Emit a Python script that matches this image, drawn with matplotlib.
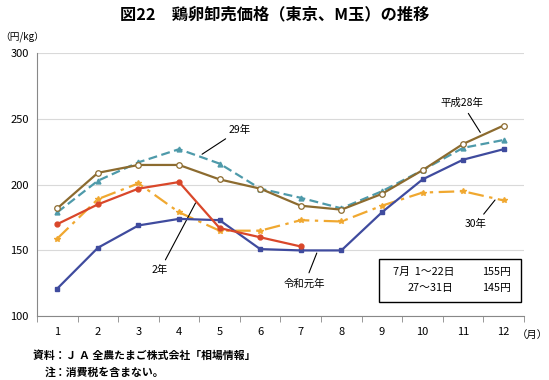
import numpy as np
import matplotlib.pyplot as plt
from matplotlib.patches import Rectangle

plt.rcParams['font.family'] = ['Noto Sans CJK JP', 'DejaVu Sans']

# データ
months = list(range(1, 13))
month_labels = [str(m) for m in months]
h28 = [182, 209, 215, 215, 204, 197, 184, 181, 193, 211, 231, 245]
h29 = [179, 203, 217, 227, 216, 197, 190, 182, 195, 211, 228, 234]
h30 = [159, 189, 201, 179, 165, 165, 173, 172, 184, 194, 195, 188]
r1 = [121, 152, 169, 174, 173, 151, 150, 150, 179, 204, 219, 227]
r2 = [170, 185, 197, 202, 167, 160, 153]
yticks = [100, 150, 200, 250, 300]

fig = plt.figure(figsize=(5.49, 3.80), dpi=100)
ax = fig.add_axes([0.0674, 0.168, 0.887, 0.692])

ax.plot(months, h28, color='#8C6B2F', lw=1.6, marker='o', ms=4,
        mfc='white', mec='#8C6B2F', mew=0.9, zorder=5)
ax.plot(months, h29, color='#4E9AAA', lw=1.6, ls=(0, (4, 2)), marker='^',
        ms=3.5, mfc='#4E9AAA', mec='#4E9AAA', zorder=4)
ax.plot(months, h30, color='#F0A830', lw=1.6, ls=(0, (7, 2.5, 1.5, 2.5)),
        marker='*', ms=4, mfc='#F0A830', mec='#F0A830', zorder=3)
ax.plot(months, r1, color='#3F4B9E', lw=1.6, marker='s', ms=3.2,
        mfc='#3F4B9E', mec='#3F4B9E', zorder=4)
ax.plot(months[:len(r2)], r2, color='#D9472A', lw=1.6, marker='o', ms=3.5,
        mfc='#D9472A', mec='#D9472A', zorder=4)

ax.set_xlim(0.5, 12.5)
ax.set_ylim(100, 300)
ax.set_yticks(yticks)
ax.set_yticklabels([str(v) for v in yticks], fontsize=8)
ax.set_xticks(months)
ax.set_xticklabels(month_labels, fontsize=8)
ax.set_xticks(np.arange(0.5, 13, 1), minor=True)
ax.tick_params(axis='x', which='major', length=0, pad=8)
ax.tick_params(axis='x', which='minor', length=4, color='#888888')
ax.tick_params(axis='y', length=0, pad=6)
ax.grid(axis='y', color='#d9d9d9', lw=0.8)
ax.set_axisbelow(True)
for s in ['top', 'right']:
    ax.spines[s].set_visible(False)
ax.spines['left'].set_color('#888888')
ax.spines['bottom'].set_color('#888888')

# 注釈
kw = dict(fontsize=7.5, ha='center', va='center',
          arrowprops=dict(arrowstyle='-', color='black', lw=0.8))
ax.annotate('29年', xy=(4.51, 222), xytext=(5.5, 242), **kw)
ax.annotate('平成28年', xy=(11.46, 238), xytext=(10.97, 262), **kw)
ax.annotate('30年', xy=(11.83, 190), xytext=(11.31, 170), **kw)
ax.annotate('2年', xy=(4.44, 188), xytext=(3.53, 135), **kw)
ax.annotate('令和元年', xy=(7.42, 150), xytext=(7.1, 125), **kw)

ax.add_patch(Rectangle((8.92, 110.6), 3.5, 32.7, fill=False, ec='black',
                       lw=1, zorder=6))
ax.text(9.27, 133.5, '7月  1～22日', fontsize=7.8, va='center')
ax.text(12.17, 133.5, '155円', fontsize=7.8, va='center', ha='right')
ax.text(10.2, 121.3, '27～31日', fontsize=7.8, va='center', ha='center')
ax.text(12.17, 121.3, '145円', fontsize=7.8, va='center', ha='right')

fig.text(0.5, 0.963, '図22　鶏卵卸売価格（東京、M玉）の推移', fontsize=11.7,
         fontweight='bold', ha='center', va='center')
fig.text(0.0, 0.903, '（円/kg）', fontsize=7, ha='left', va='center')
fig.text(0.998, 0.118, '（月）', fontsize=7.5, ha='right', va='center')
fig.text(0.06, 0.065, '資料：Ｊ Ａ 全農たまご株式会社「相場情報」', fontsize=7.8,
         fontweight='bold', ha='left', va='center')
fig.text(0.082, 0.02, '注：消費税を含まない。', fontsize=7.8,
         fontweight='bold', ha='left', va='center')

fig.savefig('out.png', dpi=100)
